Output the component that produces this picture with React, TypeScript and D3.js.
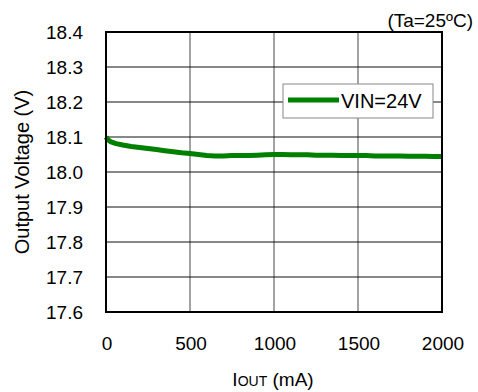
import React from "react";
import * as d3 from "d3";

const currentMA = [0, 10, 30, 60, 100, 150, 200, 250, 300, 350, 400, 450, 500, 550, 600, 650, 700, 750, 800, 850, 900, 950, 1000, 1050, 1100, 1150, 1200, 1250, 1300, 1350, 1400, 1450, 1500, 1550, 1600, 1650, 1700, 1750, 1800, 1850, 1900, 1950, 2000];
const vout24 = [18.1, 18.093, 18.086, 18.081, 18.077, 18.073, 18.07, 18.067, 18.064, 18.061, 18.058, 18.055, 18.053, 18.05, 18.047, 18.046, 18.046, 18.047, 18.047, 18.047, 18.048, 18.049, 18.05, 18.05, 18.049, 18.049, 18.049, 18.048, 18.048, 18.048, 18.047, 18.047, 18.047, 18.047, 18.046, 18.046, 18.046, 18.046, 18.045, 18.045, 18.045, 18.044, 18.044];
const xTicks = [0, 500, 1000, 1500, 2000];
const yTicks = [17.6, 17.7, 17.8, 17.9, 18.0, 18.1, 18.2, 18.3, 18.4];
const seriesName = "VIN=24V";

const W = 478, H = 392;
const L = 106, R = 442, T = 32, B = 312;
const font = "Liberation Sans, Arial, sans-serif";

export default function App() {
  const x = d3.scaleLinear().domain([0, 2000]).range([L, R]);
  const y = d3.scaleLinear().domain([17.6, 18.4]).range([B, T]);
  const line = d3.line<number>().x((_, i) => x(currentMA[i])).y((d) => y(d));
  return (
    <svg width={W} height={H} style={{ position: "absolute", left: 0, top: 0 }} fontFamily={font}>
      <rect width={W} height={H} fill="#fff" />
      {xTicks.slice(1, -1).map((t) => (
        <line key={"vx" + t} x1={x(t)} x2={x(t)} y1={T} y2={B} stroke="#666" strokeWidth={1.2} />
      ))}
      {yTicks.slice(1, -1).map((t) => (
        <line key={"hy" + t} x1={L} x2={R} y1={y(t)} y2={y(t)} stroke="#111" strokeWidth={1} />
      ))}
      <path d={line(vout24) || ""} fill="none" stroke="#008000" strokeWidth={5} strokeLinejoin="round" />
      <rect x={L} y={T} width={R - L} height={B - T} fill="none" stroke="#000" strokeWidth={2} />
      {yTicks.map((t) => (
        <text key={"yl" + t} x={83} y={y(t) + 7} textAnchor="end" fontSize={19} fill="#000">{t.toFixed(1)}</text>
      ))}
      {xTicks.map((t) => (
        <text key={"xl" + t} x={x(t) + 1} y={350} textAnchor="middle" fontSize={19} fill="#000">{t}</text>
      ))}
      <text x={W - 5} y={27} textAnchor="end" fontSize={19} fill="#000">(Ta=25ºC)</text>
      <text transform={`translate(29,${(T + B) / 2}) rotate(-90)`} textAnchor="middle" fontSize={20} fill="#000">Output Voltage (V)</text>
      <text x={273} y={386} textAnchor="middle" fontSize={19} fill="#000">
        I<tspan fontSize={14}>OUT</tspan> (mA)
      </text>
      <g>
        <rect x={283} y={84} width={150} height={34} fill="#fff" stroke="#888" strokeWidth={1} />
        <line x1={288} x2={339} y1={100} y2={100} stroke="#008000" strokeWidth={5} />
        <text x={341} y={108} fontSize={20} fill="#000">{seriesName}</text>
      </g>
    </svg>
  );
}
